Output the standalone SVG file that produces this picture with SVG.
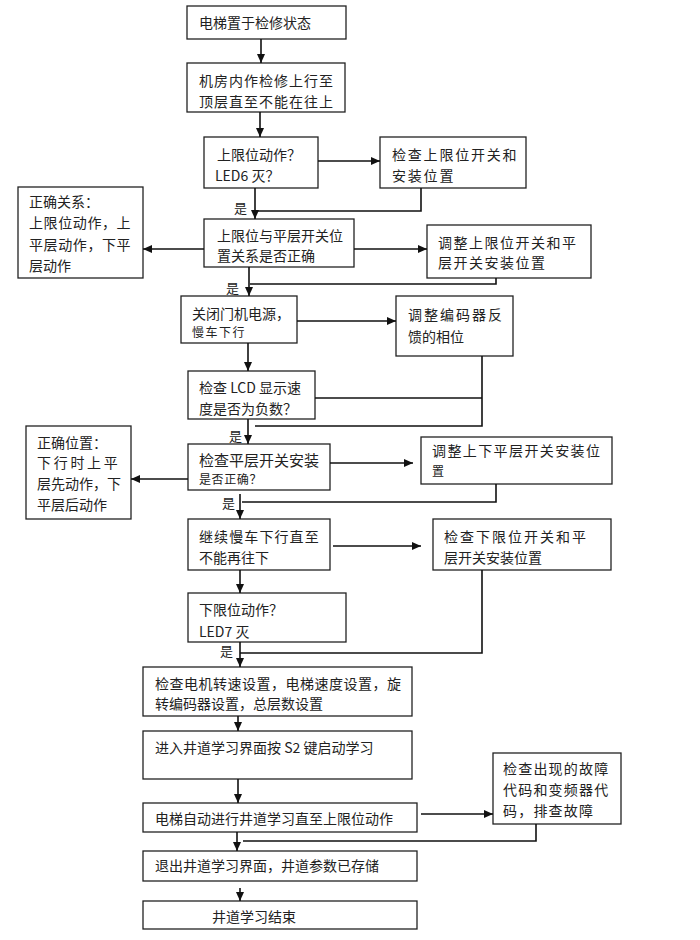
<svg xmlns="http://www.w3.org/2000/svg" width="700" height="940" viewBox="0 0 700 940">
<style>
rect{fill:#fff;stroke:#222;stroke-width:1.3}
text{font-family:"Noto Sans CJK SC","Liberation Sans",sans-serif;font-size:14px;fill:#222}
.s{font-size:12px}
.y{font-size:13px}
#conn path{fill:none;stroke:#111;stroke-width:1.6}
</style>
<defs>
<marker id="ah" markerUnits="userSpaceOnUse" markerWidth="10" markerHeight="10" refX="9" refY="5" orient="auto">
<path d="M0,1 L9,5 L0,9 Z" fill="#111"/>
</marker>
</defs>
<rect x="0" y="0" width="700" height="940" style="stroke:none"/>
<g id="n1"><rect x="187" y="6" width="159" height="33"/><text x="199" y="28">电梯置于检修状态</text></g>
<g id="n2"><rect x="187" y="63" width="158" height="49"/><text x="199" y="86" letter-spacing="1">机房内作检修上行至</text><text x="199" y="107" letter-spacing="1">顶层直至不能在往上</text></g>
<g id="n3"><rect x="204" y="137" width="114" height="51"/><text x="217" y="160">上限位动作？</text><text x="215" y="181">LED6 灭？</text></g>
<g id="n4"><rect x="380" y="137" width="146" height="51"/><text x="392" y="160" letter-spacing="1.8">检查上限位开关和</text><text x="392" y="181" letter-spacing="1.8">安装位置</text></g>
<g id="n5"><rect x="18" y="187" width="125" height="91"/><text x="29" y="207">正确关系：</text><text x="29" y="228" letter-spacing="0.6">上限位动作，上</text><text x="29" y="250" letter-spacing="0.6">平层动作，下平</text><text x="29" y="271">层动作</text></g>
<g id="n6"><rect x="204" y="219" width="150" height="48"/><text x="217" y="241">上限位与平层开关位</text><text x="217" y="261">置关系是否正确</text></g>
<g id="n7"><rect x="427" y="225" width="164" height="53"/><text x="438" y="248" letter-spacing="1.5">调整上限位开关和平</text><text x="438" y="268" letter-spacing="1.5">层开关安装位置</text></g>
<g id="n8"><rect x="181" y="296" width="116" height="47"/><text x="192" y="319">关闭门机电源，</text><text class="s" x="192" y="337" letter-spacing="1.5">慢车下行</text></g>
<g id="n9"><rect x="396" y="296" width="117" height="60"/><text x="408" y="320" letter-spacing="2">调整编码器反</text><text x="408" y="342">馈的相位</text></g>
<g id="n10"><rect x="188" y="371" width="127" height="48"/><text x="199" y="393">检查 LCD 显示速</text><text x="199" y="414">度是否为负数？</text></g>
<g id="n11"><rect x="26" y="426" width="105" height="93"/><text x="37" y="448">正确位置：</text><text x="37" y="468" letter-spacing="2.7">下行时上平</text><text x="37" y="489">层先动作，下</text><text x="37" y="510">平层后动作</text></g>
<g id="n12"><rect x="188" y="444" width="142" height="46"/><text x="199" y="466" style="font-size:15px">检查平层开关安装</text><text class="s" x="199" y="484" letter-spacing="0.6">是否正确？</text></g>
<g id="n13"><rect x="421" y="437" width="191" height="47"/><text x="432" y="456" letter-spacing="1.4">调整上下平层开关安装位</text><text class="s" x="432" y="476">置</text></g>
<g id="n14"><rect x="188" y="519" width="142" height="51"/><text x="199" y="542" letter-spacing="1.1">继续慢车下行直至</text><text x="199" y="563">不能再往下</text></g>
<g id="n15"><rect x="433" y="519" width="178" height="51"/><text x="444" y="542" letter-spacing="2">检查下限位开关和平</text><text x="444" y="563">层开关安装位置</text></g>
<g id="n16"><rect x="188" y="593" width="158" height="49"/><text x="199" y="615">下限位动作？</text><text x="199" y="637">LED7 灭</text></g>
<g id="n17"><rect x="143" y="667" width="269" height="49"/><text x="155" y="689" letter-spacing="0.5">检查电机转速设置，电梯速度设置，旋</text><text x="155" y="709">转编码器设置，总层数设置</text></g>
<g id="n18"><rect x="143" y="731" width="269" height="48"/><text x="155" y="753">进入井道学习界面按 S2 键启动学习</text></g>
<g id="n19"><rect x="493" y="753" width="128" height="71"/><text x="503" y="774" letter-spacing="1.2">检查出现的故障</text><text x="503" y="795" letter-spacing="1.2">代码和变频器代</text><text x="503" y="816" letter-spacing="1.2">码，排查故障</text></g>
<g id="n20"><rect x="143" y="803" width="274" height="29"/><text x="155" y="824">电梯自动进行井道学习直至上限位动作</text></g>
<g id="n21"><rect x="143" y="851" width="274" height="30"/><text x="155" y="871">退出井道学习界面，井道参数已存储</text></g>
<g id="n22"><rect x="143" y="901" width="274" height="28"/><text x="212" y="922">井道学习结束</text></g>
<g id="conn">
<path d="M261,39 V63" marker-end="url(#ah)"/>
<path d="M260,112 V137" marker-end="url(#ah)"/>
<path d="M318,161 H380" marker-end="url(#ah)"/>
<path d="M421,188 V211 H255"/>
<path d="M255,188 V219" marker-end="url(#ah)"/>
<path d="M354,249 H427" marker-end="url(#ah)"/>
<path d="M204,249 H143" marker-end="url(#ah)"/>
<path d="M496,278 V284 H250"/>
<path d="M249,267 V296" marker-end="url(#ah)"/>
<path d="M297,321 H396" marker-end="url(#ah)"/>
<path d="M248,343 V371" marker-end="url(#ah)"/>
<path d="M482,356 V426 H255"/>
<path d="M315,398 H482"/>
<path d="M248,419 V444" marker-end="url(#ah)"/>
<path d="M188,479 H131" marker-end="url(#ah)"/>
<path d="M330,463 H413" marker-end="url(#ah)"/>
<path d="M496,484 V502 H242"/>
<path d="M240,494 V519" marker-end="url(#ah)"/>
<path d="M240,570 V593" marker-end="url(#ah)"/>
<path d="M333,546 H421" marker-end="url(#ah)"/>
<path d="M482,570 V653 H240"/>
<path d="M240,642 V667" marker-end="url(#ah)"/>
<path d="M238,716 V731" marker-end="url(#ah)"/>
<path d="M238,779 V803" marker-end="url(#ah)"/>
<path d="M421,814 H493" marker-end="url(#ah)"/>
<path d="M536,824 V841 H243"/>
<path d="M237,832 V851" marker-end="url(#ah)"/>
<path d="M240,888 V901" marker-end="url(#ah)"/>
<text class="y" x="234" y="213">是</text>
<text class="y" x="226" y="293">是</text>
<text class="y" x="229" y="441">是</text>
<text class="y" x="222" y="508">是</text>
<text class="y" x="220" y="656">是</text>
</g>
</svg>
